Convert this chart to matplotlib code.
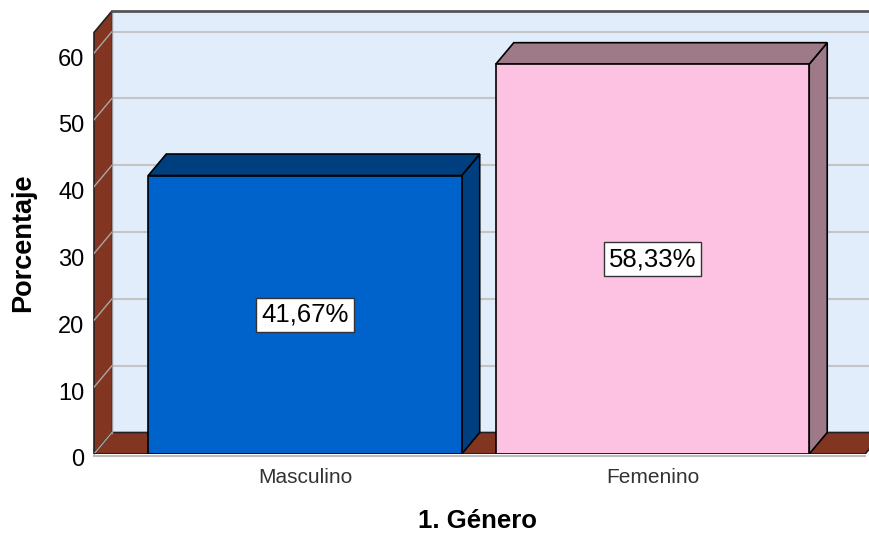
import numpy as np
import matplotlib
matplotlib.use("Agg")
import matplotlib.pyplot as plt
from matplotlib.patches import Polygon, Rectangle
from matplotlib.transforms import ScaledTranslation

plt.rcParams['font.family'] = ['Liberation Sans', 'DejaVu Sans']

# datos
categorias = ['Masculino', 'Femenino']
porcentajes = [41.67, 58.33]
etiquetas = ['41,67%', '58,33%']
yticks = [0, 10, 20, 30, 40, 50, 60]

# estilo
frente = ['#0063CB', '#FDC1E1']
lateral = ['#003F7F', '#9E7A89']
pared = '#E1EDFB'
marron = '#823520'
rejilla = '#C4C4C4'

fig = plt.figure(figsize=(8.7, 5.33), dpi=100)
W, H = 870, 533
ax = fig.add_axes([94 / W, (H - 454) / H, 776 / W, 443 / H])

px_x = 347.5            # pixeles por categoria
px_y = 6.683            # pixeles por unidad de porcentaje
xmin = (94 - 305) / px_x
xmax = (870 - 305) / px_x
ymax = (454 - 11) / px_y
dx = 18 / px_x
dy = 21.5 / px_y
top = ymax - dy
floor_r = 1.612
ancho = 0.902

ax.set_xlim(xmin, xmax)
ax.set_ylim(0, ymax)
for s in ax.spines.values():
    s.set_visible(False)
ax.patch.set_visible(False)

# pared del fondo
ax.add_patch(Rectangle((xmin + dx, dy), xmax - xmin, top, facecolor=pared, edgecolor='none', zorder=0))
# pared izquierda
ax.add_patch(Polygon([(xmin, 0), (xmin + dx, dy), (xmin + dx, ymax), (xmin, top)],
                     facecolor=marron, edgecolor='#222222', lw=1.2, zorder=1, clip_on=False))
# suelo
ax.add_patch(Polygon([(xmin, 0), (floor_r, 0), (floor_r + dx, dy), (xmin + dx, dy)],
                     facecolor=marron, edgecolor='#222222', lw=1.2, zorder=1, clip_on=True))

# rejilla
for v in yticks:
    ax.plot([xmin + dx, xmax], [v + dy, v + dy], color=rejilla, lw=1.5, zorder=0.5)
    ax.plot([xmin, xmin + dx], [v, v + dy], color='#A8A8A8', lw=1.0, zorder=1.5)
ax.plot([xmin + dx, xmin + dx], [dy, ymax], color='#9A9A9A', lw=1.0, zorder=1.5)
ax.plot([xmin + dx, xmax], [ymax, ymax], color='#555555', lw=2, zorder=2, clip_on=False)
ax.plot([xmin, floor_r], [0, 0], color='#222222', lw=1.5, zorder=2)
ax.plot([xmin, floor_r], [-0.35, -0.35], color='#BBBBBB', lw=1.5, zorder=1.8, clip_on=False)

# barras 3D
for i, (v, lab) in enumerate(zip(porcentajes, etiquetas)):
    xl = i - ancho / 2
    xr = i + ancho / 2
    ax.add_patch(Polygon([(xr, 0), (xr + dx, dy), (xr + dx, v + dy), (xr, v)],
                         facecolor=lateral[i], edgecolor='black', lw=1.2, zorder=3))
    ax.add_patch(Polygon([(xl, v), (xl + dx, v + dy), (xr + dx, v + dy), (xr, v)],
                         facecolor=lateral[i], edgecolor='black', lw=1.2, zorder=3))
    ax.add_patch(Rectangle((xl, 0), ancho, v, facecolor=frente[i], edgecolor='black', lw=1.2, zorder=4))
    ax.text(i, v / 2, lab, ha='center', va='center', fontsize=18.5, zorder=5,
            bbox=dict(boxstyle='square,pad=0.2', facecolor='white', edgecolor='#333333', lw=1))

# ejes
ax.set_yticks(yticks)
ax.set_yticklabels([str(t) for t in yticks], fontsize=17)
ax.tick_params(axis='y', length=0, pad=7)
offset = ScaledTranslation(0, -4 / 100, fig.dpi_scale_trans)
for t in ax.get_yticklabels():
    t.set_transform(t.get_transform() + offset)

ax.set_xticks(range(len(categorias)))
ax.set_xticklabels(categorias, fontsize=15, color='#333333')
ax.tick_params(axis='x', length=0, pad=10)

fig.text(23 / W, 1 - 243 / H, 'Porcentaje', rotation=90, ha='center', va='center',
         fontsize=19.5, fontweight='bold')
fig.text(478 / W, 1 - 521 / H, '1. Género', ha='center', va='center',
         fontsize=18.5, fontweight='bold')

fig.savefig('out.png', dpi=100)
